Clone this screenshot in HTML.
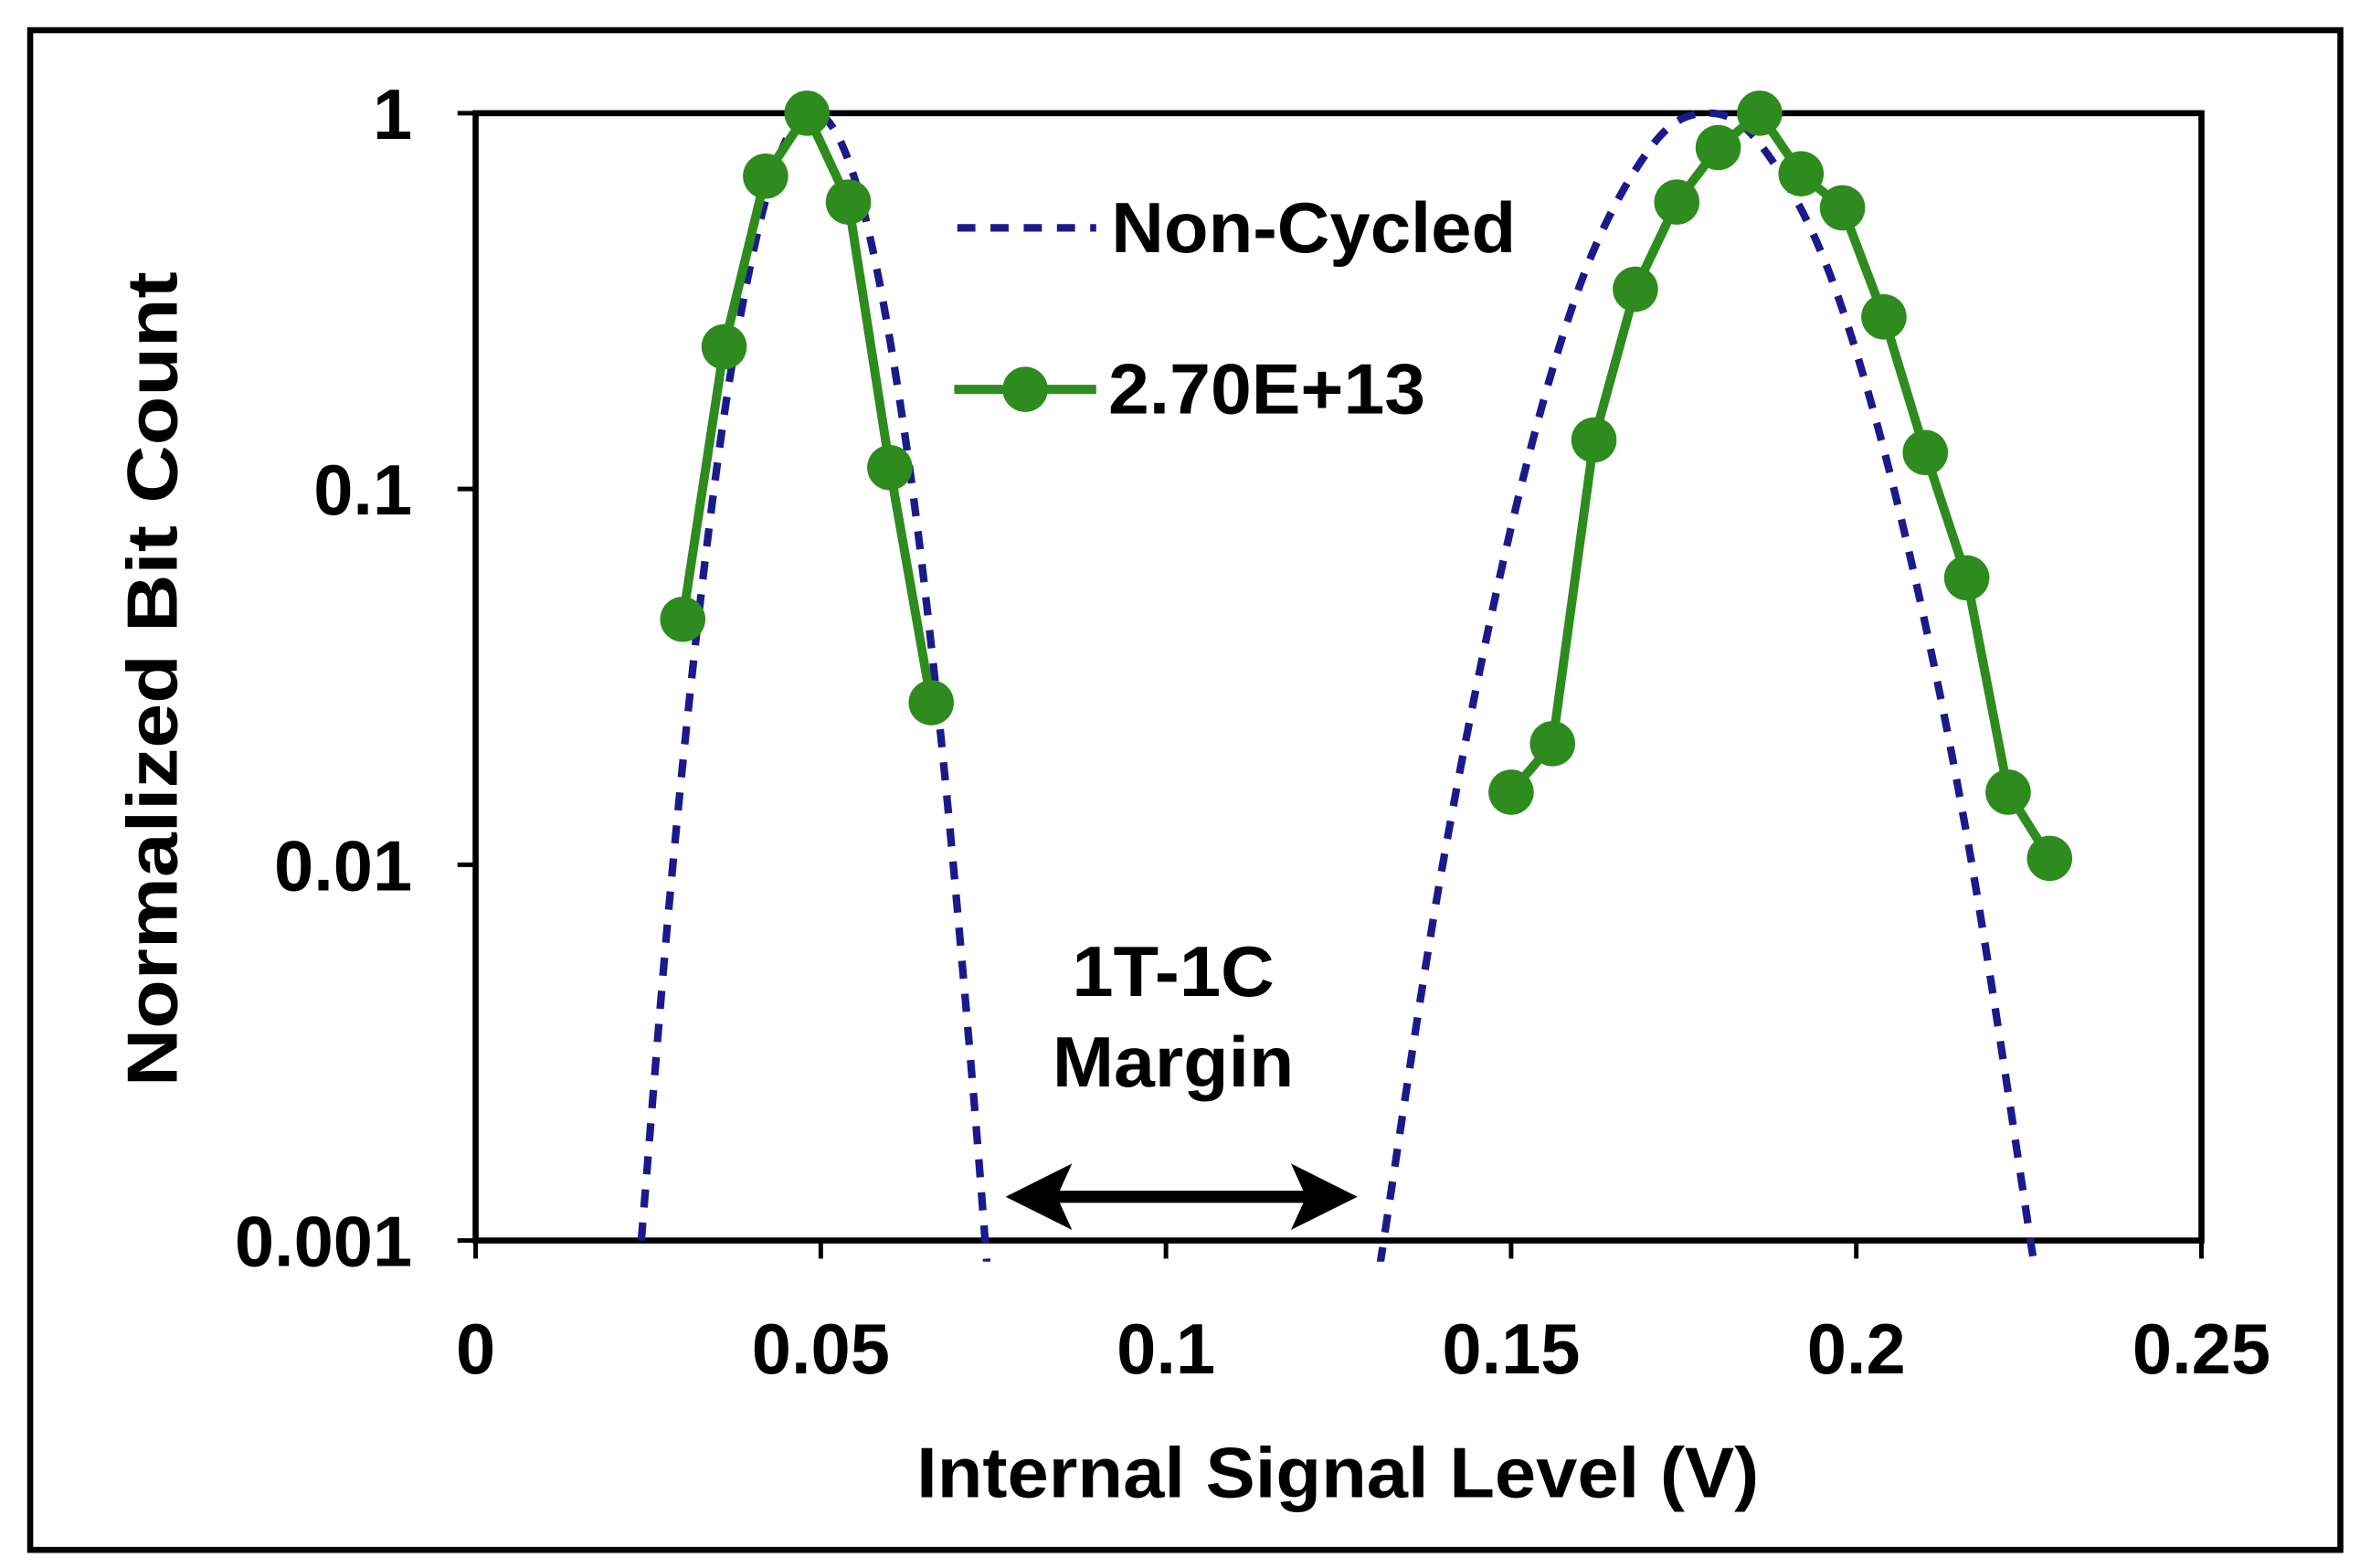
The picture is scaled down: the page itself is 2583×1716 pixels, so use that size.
<!DOCTYPE html>
<html><head><meta charset="utf-8">
<style>
html,body{margin:0;padding:0;background:#fff;}
svg{display:block;font-family:"Liberation Sans",Arial,sans-serif;font-weight:bold;}
</style></head>
<body>
<svg id="chart" width="2583" height="1716" viewBox="0 0 1563 1039" preserveAspectRatio="none" xmlns="http://www.w3.org/2000/svg">
<rect x="20" y="20" width="1530" height="1007" fill="#fff" stroke="#000" stroke-width="4"/>
<defs><clipPath id="clip"><rect x="315" y="70" width="1143" height="766"/></clipPath></defs>
<g id="axes"></g>
<g id="series" clip-path="url(#clip)"></g>
<g id="markers"></g>
<text x="607" y="992" font-size="47" textLength="558" lengthAdjust="spacingAndGlyphs">Internal Signal Level (V)</text>
<text transform="translate(117,720) rotate(-90)" font-size="47" textLength="540" lengthAdjust="spacingAndGlyphs">Normalized Bit Count</text>
<g>
<line x1="634" y1="151" x2="726" y2="151" stroke="#1a1a8c" stroke-width="5" stroke-dasharray="12,10"/>
<text x="736" y="167" font-size="47" textLength="268" lengthAdjust="spacingAndGlyphs">Non-Cycled</text>
<line x1="632" y1="258" x2="726" y2="258" stroke="#2e8b1e" stroke-width="6"/>
<circle cx="679" cy="258" r="15" fill="#2e8b1e"/>
<text x="734" y="274" font-size="47" textLength="210" lengthAdjust="spacingAndGlyphs">2.70E+13</text>
</g>
<g>
<text x="710" y="660" font-size="47" textLength="134" lengthAdjust="spacingAndGlyphs">1T-1C</text>
<text x="697" y="720" font-size="47" textLength="160" lengthAdjust="spacingAndGlyphs">Margin</text>
<line x1="690" y1="793" x2="875" y2="793" stroke="#000" stroke-width="8"/>
<path d="M666,793 L710,771 L700,793 L710,815 Z" fill="#000"/>
<path d="M899,793 L855,771 L865,793 L855,815 Z" fill="#000"/>
</g>
</svg>
<script>
const xTicks = [0, 0.05, 0.1, 0.15, 0.2, 0.25];
const xTickLabels = ["0", "0.05", "0.1", "0.15", "0.2", "0.25"];
const yTicks = [1, 0.1, 0.01, 0.001];
const yTickLabels = ["1", "0.1", "0.01", "0.001"];
const nonCycledLeftX = [0.024,0.028,0.032,0.036,0.040,0.044,0.048,0.052,0.056,0.060,0.064,0.068,0.072,0.0745];
const nonCycledLeftY = [0.001,0.0077,0.041,0.157,0.41,0.77,1.0,0.90,0.57,0.25,0.079,0.017,0.0026,0.00068];
const nonCycledRightX = [0.131,0.140,0.150,0.160,0.170,0.178,0.186,0.196,0.206,0.216,0.226];
const nonCycledRightY = [0.00086,0.0098,0.079,0.35,0.80,1.0,0.83,0.38,0.091,0.012,0.00081];
const cycledLeftX = [0.030,0.036,0.042,0.048,0.054,0.060,0.066];
const cycledLeftY = [0.045,0.239,0.68,1.0,0.58,0.114,0.027];
const cycledRightX = [0.150,0.156,0.162,0.168,0.174,0.180,0.186,0.192,0.198,0.204,0.210,0.216,0.222,0.228];
const cycledRightY = [0.0156,0.021,0.135,0.34,0.58,0.81,1.0,0.69,0.56,0.287,0.125,0.058,0.0156,0.0104];

const NS = "http://www.w3.org/2000/svg";
const X0 = 315, X1 = 1458, Y0 = 75, Y1 = 822;
function sx(v){ return X0 + (v - 0) / 0.25 * (X1 - X0); }
function sy(v){ return Y0 + (0 - Math.log10(v)) / 3 * (Y1 - Y0); }
function mk(tag, attrs, parent){ const e = document.createElementNS(NS, tag); for (const k in attrs) e.setAttribute(k, attrs[k]); parent.appendChild(e); return e; }

const axes = document.getElementById('axes');
const plot = mk('rect', {x:X0, y:Y0, width:X1-X0, height:Y1-Y0, fill:'none', stroke:'#000', 'stroke-width':4}, axes);


xTicks.forEach((t, i) => {
  const l = mk('line', {x1:sx(t), y1:Y1, x2:sx(t), y2:Y1+12, stroke:'#000', 'stroke-width':3}, axes);
  
  
  const tx = mk('text', {x:sx(t), y:Y1+88, 'font-size':47, 'text-anchor':'middle'}, axes);
  tx.textContent = xTickLabels[i];
  
  
});
yTicks.forEach((t, i) => {
  const l = mk('line', {x1:X0-12, y1:sy(t), x2:X0, y2:sy(t), stroke:'#000', 'stroke-width':3}, axes);
  
  
  const tx = mk('text', {x:X0-42, y:sy(t)+17, 'font-size':47, 'text-anchor':'end'}, axes);
  tx.textContent = yTickLabels[i];
  
  
});

function smoothPath(xs, ys){
  const p = xs.map((x, i) => [sx(x), sy(ys[i])]);
  let d = 'M' + p[0][0] + ',' + p[0][1];
  for (let i = 0; i < p.length - 1; i++) {
    const a = p[i-1] || p[i], b = p[i], c = p[i+1], e = p[i+2] || c;
    const c1 = [b[0] + (c[0]-a[0])/6, b[1] + (c[1]-a[1])/6];
    const c2 = [c[0] - (e[0]-b[0])/6, c[1] - (e[1]-b[1])/6];
    d += ' C' + c1 + ' ' + c2 + ' ' + c;
  }
  return d;
}
const series = document.getElementById('series');
[[nonCycledLeftX, nonCycledLeftY], [nonCycledRightX, nonCycledRightY]].forEach(([xs, ys]) => {
  const p = mk('path', {d:smoothPath(xs, ys), fill:'none', stroke:'#1a1a8c', 'stroke-width':5, 'stroke-dasharray':'12,10'}, series);
  
  
});
const markers = document.getElementById('markers');
[[cycledLeftX, cycledLeftY], [cycledRightX, cycledRightY]].forEach(([xs, ys]) => {
  const pts = xs.map((x, i) => sx(x) + ',' + sy(ys[i])).join(' ');
  const pl = mk('polyline', {points:pts, fill:'none', stroke:'#2e8b1e', 'stroke-width':6}, markers);
  
  
  xs.forEach((x, i) => {
    const c = mk('circle', {cx:sx(x), cy:sy(ys[i]), r:15, fill:'#2e8b1e'}, markers);
    
    
  });
});
</script>
</body></html>
